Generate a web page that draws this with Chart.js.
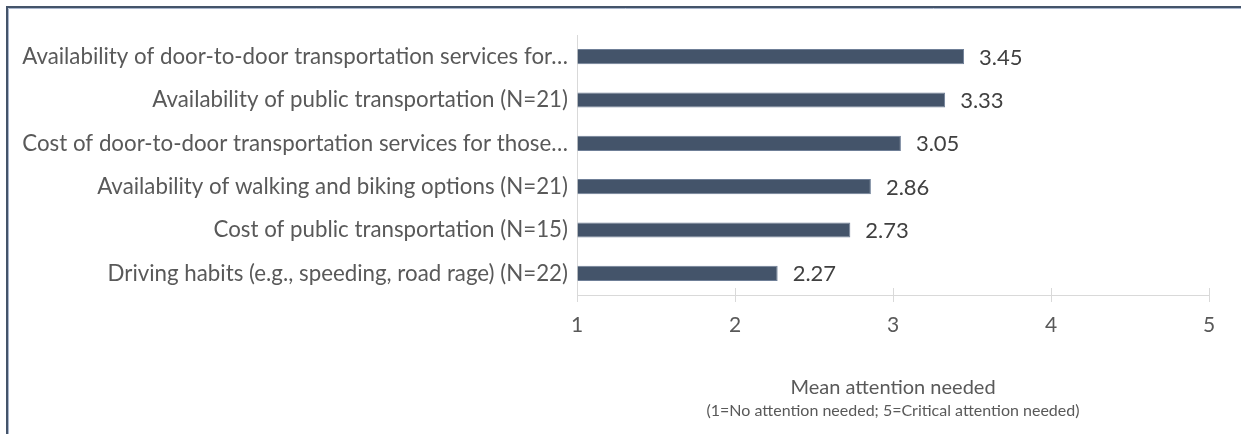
<!DOCTYPE html>
<html>
<head>
<meta charset="utf-8">
<script src="https://cdn.jsdelivr.net/npm/chart.js@4.4.1/dist/chart.umd.min.js"></script>
<style>
  html, body { margin: 0; padding: 0; background: #ffffff; }
  #wrap { width: 1241px; height: 434px; position: relative; }
</style>
</head>
<body>
<div id="wrap"><canvas id="c" width="1241" height="434"></canvas></div>
<script>
const categories = [
  "Availability of door-to-door transportation services for…",
  "Availability of public transportation (N=21)",
  "Cost of door-to-door transportation services for those…",
  "Availability of walking and biking options (N=21)",
  "Cost of public transportation (N=15)",
  "Driving habits (e.g., speeding, road rage) (N=22)"
];
const meanValues = [3.45, 3.33, 3.05, 2.86, 2.73, 2.27];
const axisMin = 1;
const axisMax = 5;
const axisTitle = "Mean attention needed";
const axisSubtitle = "(1=No attention needed; 5=Critical attention needed)";

const FONT = "Lato, 'Open Sans', sans-serif";
const TEXT = "#595959";
const AXIS = "#D9D9D9";

const frame = {
  id: 'frame',
  beforeDraw(chart) {
    const ctx = chart.ctx;
    ctx.save();
    ctx.fillStyle = '#ffffff';
    ctx.fillRect(0, 0, chart.width, chart.height);
    ctx.strokeStyle = '#44546A';
    ctx.lineWidth = 2;
    ctx.beginPath();
    ctx.moveTo(7, chart.height + 5);
    ctx.lineTo(7, 7);
    ctx.lineTo(chart.width + 5, 7);
    ctx.stroke();
    ctx.strokeStyle = '#A9B6CC';
    ctx.lineWidth = 1;
    ctx.beginPath();
    ctx.moveTo(8.5, chart.height + 5);
    ctx.lineTo(8.5, 8.5);
    ctx.lineTo(chart.width + 5, 8.5);
    ctx.stroke();
    ctx.restore();
  }
};

const extras = {
  id: 'extras',
  afterDatasetsDraw(chart) {
    const ctx = chart.ctx;
    const x = chart.scales.x;
    const area = chart.chartArea;
    ctx.save();
    ctx.strokeStyle = AXIS;
    ctx.lineWidth = 1;
    for (let v = axisMin; v <= axisMax; v++) {
      const px = Math.round(x.getPixelForValue(v)) + 0.5;
      ctx.beginPath();
      ctx.moveTo(px, area.bottom - 7);
      ctx.lineTo(px, area.bottom + 7);
      ctx.stroke();
    }
    ctx.fillStyle = '#404040';
    ctx.font = "22px " + FONT;
    ctx.textBaseline = 'middle';
    ctx.textAlign = 'left';
    const meta = chart.getDatasetMeta(0);
    meta.data.forEach((bar, i) => {
      ctx.fillText(meanValues[i].toFixed(2), bar.x + 15, bar.y + 1);
    });
    const cx = (area.left + area.right) / 2;
    ctx.fillStyle = TEXT;
    ctx.textAlign = 'center';
    ctx.font = "20px " + FONT;
    ctx.fillText(axisTitle, cx, 388);
    ctx.font = "16px " + FONT;
    ctx.fillText(axisSubtitle, cx, 411);
    ctx.restore();
  }
};

new Chart(document.getElementById('c'), {
  type: 'bar',
  data: {
    labels: categories,
    datasets: [{
      data: meanValues,
      backgroundColor: '#44546A',
      borderColor: '#6F7F97',
      borderWidth: 1,
      borderSkipped: 'start',
      categoryPercentage: 1,
      barPercentage: 0.35,
      base: axisMin
    }]
  },
  options: {
    indexAxis: 'y',
    responsive: false,
    animation: false,
    devicePixelRatio: 1,
    layout: { padding: { left: 0, right: 32, top: 35, bottom: 0 } },
    plugins: { legend: { display: false }, tooltip: { enabled: false } },
    scales: {
      x: {
        min: axisMin, max: axisMax,
        afterFit(s) { s.height = 139; },
        ticks: { stepSize: 1, color: TEXT, font: { family: FONT, size: 21 }, padding: 18 },
        grid: { drawOnChartArea: false, drawTicks: false },
        border: { display: true, color: AXIS }
      },
      y: {
        afterFit(s) { s.width = 577; },
        ticks: { color: TEXT, font: { family: FONT, size: 22.3 }, padding: 9, autoSkip: false },
        grid: { display: false, drawTicks: false },
        border: { display: true, color: AXIS }
      }
    }
  },
  plugins: [frame, extras]
});
</script>
</body>
</html>
